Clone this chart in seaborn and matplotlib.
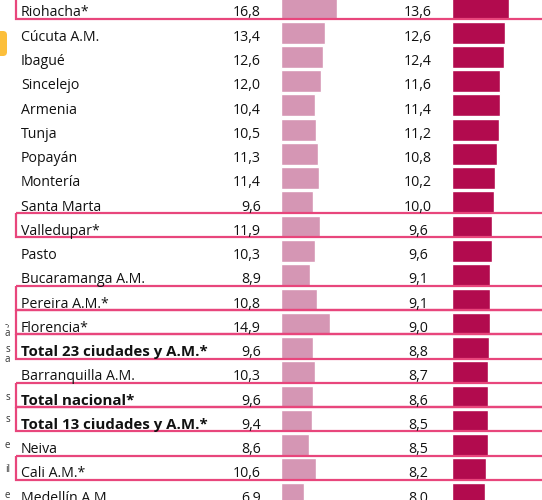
import pandas as pd
import matplotlib.pyplot as plt
import seaborn as sns
from matplotlib.patches import Rectangle, FancyBboxPatch

# Datos (tasa de desempleo por ciudad)
ciudades = ["Riohacha*", "Cúcuta A.M.", "Ibagué", "Sincelejo", "Armenia", "Tunja",
            "Popayán", "Montería", "Santa Marta", "Valledupar*", "Pasto",
            "Bucaramanga A.M.", "Pereira A.M.*", "Florencia*",
            "Total 23 ciudades y A.M.*", "Barranquilla A.M.", "Total nacional*",
            "Total 13 ciudades y A.M.*", "Neiva", "Cali A.M.*", "Medellín A.M."]
valor_anterior = [16.8, 13.4, 12.6, 12.0, 10.4, 10.5, 11.3, 11.4, 9.6, 11.9, 10.3,
                  8.9, 10.8, 14.9, 9.6, 10.3, 9.6, 9.4, 8.6, 10.6, 6.9]
valor_actual = [13.6, 12.6, 12.4, 11.6, 11.4, 11.2, 10.8, 10.2, 10.0, 9.6, 9.6,
                9.1, 9.1, 9.0, 8.8, 8.7, 8.6, 8.5, 8.5, 8.2, 8.0]
resaltadas = ["Riohacha*", "Valledupar*", "Pereira A.M.*", "Florencia*",
              "Total 23 ciudades y A.M.*", "Total nacional*",
              "Total 13 ciudades y A.M.*", "Cali A.M.*"]
negritas = ["Total 23 ciudades y A.M.*", "Total nacional*", "Total 13 ciudades y A.M.*"]
fragmentos = [("-,", 324), ("a", 334), ("s", 350), ("a", 360), ("s", 397),
              ("s", 420), ("e", 445), ("il", 469), ("e", 495)]

df = pd.DataFrame({"ciudad": ciudades, "antes": valor_anterior, "ahora": valor_actual})

ROSA = "#D596B4"
MAGENTA = "#B20B4E"
BORDE = "#E8467C"

sns.set_style("white")
plt.rcParams["font.family"] = ["Open Sans", "DejaVu Sans"]

W, H = 542, 500
fig = plt.figure(figsize=(W / 100, H / 100), dpi=100)

paso = 24.26
centro0 = 8.4  # centro de la barra de la primera fila (px)
ylim = ((H - centro0) / paso, -centro0 / paso)


def eje_barras(x0, ancho_px, px_por_unidad, col, color):
    ax = fig.add_axes([x0 / W, 0, ancho_px / W, 1])
    sns.barplot(data=df, y="ciudad", x=col, orient="h", color=color,
                saturation=1, width=22 / paso, ax=ax, order=ciudades)
    ax.set_xlim(0, ancho_px / px_por_unidad)
    ax.set_ylim(*ylim)
    ax.axis("off")
    return ax


eje_barras(281, 70, 3.31, "antes", ROSA)
eje_barras(452, 90, 4.18, "ahora", MAGENTA)

# capa superior para textos y recuadros, en pixeles
top = fig.add_axes([0, 0, 1, 1], zorder=5)
top.set_xlim(0, W)
top.set_ylim(H, 0)
top.axis("off")
top.patch.set_alpha(0)

for i, c in enumerate(ciudades):
    fondo = 19 + paso * i
    base = fondo - 2.5
    if c in negritas:
        top.text(21, base, c, fontsize=10.8, fontweight="bold", ha="left",
                 va="baseline", color="#111111")
    else:
        top.text(21, base, c, fontsize=10.2, ha="left", va="baseline", color="#111111")
    top.text(261, base, f"{valor_anterior[i]:.1f}".replace(".", ","), fontsize=10.2,
             ha="right", va="baseline", color="#111111")
    top.text(418, base, f"{valor_actual[i]:.1f}".replace(".", ","), fontsize=10.2,
             ha="center", va="baseline", color="#111111")
    if c in resaltadas:
        top.add_patch(Rectangle((16, fondo - paso), 560, paso, fill=False,
                                edgecolor=BORDE, linewidth=1.6, clip_on=False))

# restos de la diapositiva cortados en el borde izquierdo
top.add_patch(FancyBboxPatch((-12, 31), 19, 25, boxstyle="round,pad=0,rounding_size=4",
                             facecolor="#FCBF3B", edgecolor="none", clip_on=True))
for t, y in fragmentos:
    top.text(10, y, t, fontsize=7, ha="right", va="center", color="#333333")

fig.savefig("out.png", dpi=100)
